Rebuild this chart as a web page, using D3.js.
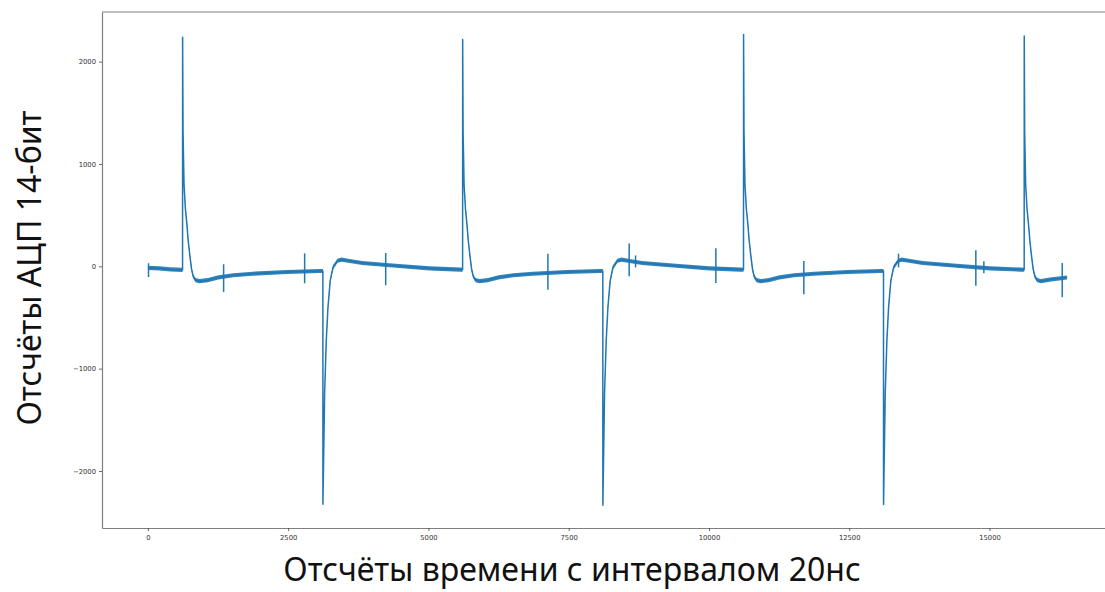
<!DOCTYPE html>
<html>
<head>
<meta charset="utf-8">
<script src="https://cdn.jsdelivr.net/npm/d3@7"></script>
<style>
  body { margin: 0; background: #fff; }
  svg { display: block; }
</style>
</head>
<body>
<svg></svg>
<script>
// ADC trace key points [sample, counts]
var startSegment = [[0,-15],[200,-20],[400,-30],[617,-35]];
var pulse1 = [[618,2238],[626,1300],[643,800],[668,560],[693,420],[718,250],[748,100],[778,-30],[808,-100],[848,-135],[918,-145],[1068,-135],[1258,-108],[1518,-88],[1868,-72],[2468,-55],[3068,-46],
  [3118,-46],[3119,-2325],[3149,-1240],[3179,-720],[3209,-400],[3249,-140],[3299,-10],[3379,55],[3449,65],[3569,55],[3819,33],[4419,5],[5019,-20],[5569,-32],[5609,-33]];
var pulse2 = [[5610,2216],[5618,1300],[5635,800],[5660,560],[5685,420],[5710,250],[5740,100],[5770,-30],[5800,-100],[5840,-135],[5910,-145],[6060,-135],[6250,-108],[6510,-88],[6860,-72],[7460,-55],[8060,-46],
  [8108,-46],[8109,-2335],[8139,-1240],[8169,-720],[8199,-400],[8239,-140],[8289,-10],[8369,55],[8439,65],[8559,55],[8809,33],[9409,5],[10009,-20],[10559,-32],[10616,-33]];
var pulse3 = [[10617,2264],[10625,1300],[10642,800],[10667,560],[10692,420],[10717,250],[10747,100],[10777,-30],[10807,-100],[10847,-135],[10917,-145],[11067,-135],[11257,-108],[11517,-88],[11867,-72],[12467,-55],[13067,-46],
  [13111,-46],[13112,-2328],[13142,-1240],[13172,-720],[13202,-400],[13242,-140],[13292,-10],[13372,55],[13442,65],[13562,55],[13812,33],[14412,5],[15012,-20],[15562,-32],[15619,-33]];
var pulse4 = [[15620,2250],[15628,1300],[15645,800],[15670,560],[15695,420],[15720,250],[15750,100],[15780,-30],[15810,-100],[15850,-135],[15920,-145],[16070,-130],[16383,-110]];

// short interference glitches [sample, high, low]
var glitches = [[10,30,-105],[1349,20,-250],[2793,127,-166],[4238,130,-185],[7129,124,-228],[8578,222,-98],[8692,107,-10],
  [10123,176,-163],[11691,52,-274],[13379,124,-10],[14757,156,-190],[14900,49,-68],[16297,33,-303]];

// noise half-width of the trace, in ADC counts
var noiseHalf = 20;

var xTicks = [0, 2500, 5000, 7500, 10000, 12500, 15000];
var yTicks = [-2000, -1000, 0, 1000, 2000];
var xLabel = "Отсчёты времени с интервалом 20нс";
var yLabel = "Отсчёты АЦП 14-бит";

var trace = startSegment.concat(pulse1, pulse2, pulse3, pulse4);

var width = 1105, height = 592;
var margin = {top: 12, left: 102};
var plotW = 1011, plotH = 516;

var svg = d3.select("svg")
    .attr("width", width)
    .attr("height", height);

var x = d3.scaleLinear()
    .domain([-819, 17202])
    .range([margin.left, margin.left + plotW]);
var y = d3.scaleLinear()
    .domain([-2557, 2485])
    .range([margin.top + plotH, margin.top]);

var blue = "#1f77b4";

// noise band
svg.append("path")
    .datum(trace)
    .attr("fill", blue)
    .attr("opacity", 0.9)
    .attr("d", d3.area()
        .x(function(d) { return x(d[0]); })
        .y0(function(d) { return y(d[1] - noiseHalf); })
        .y1(function(d) { return y(d[1] + noiseHalf); }));

svg.append("path")
    .datum(trace)
    .attr("fill", "none")
    .attr("stroke", blue)
    .attr("stroke-width", 1.5)
    .attr("stroke-linejoin", "round")
    .attr("d", d3.line()
        .x(function(d) { return x(d[0]); })
        .y(function(d) { return y(d[1]); }));

svg.selectAll(".glitch")
    .data(glitches)
    .enter().append("line")
    .attr("class", "glitch")
    .attr("x1", function(d) { return x(d[0]); })
    .attr("x2", function(d) { return x(d[0]); })
    .attr("y1", function(d) { return y(d[1]); })
    .attr("y2", function(d) { return y(d[2]); })
    .attr("stroke", blue)
    .attr("stroke-width", 1.5);

// spines (left, bottom, top; right one falls outside the picture)
var spine = "#7f7f7f";
var gx = svg.append("g")
    .attr("transform", "translate(0," + (margin.top + plotH) + ")")
    .call(d3.axisBottom(x).tickValues(xTicks).tickFormat(d3.format("d"))
        .tickSize(3).tickSizeOuter(0).tickPadding(4));
var gy = svg.append("g")
    .attr("transform", "translate(" + margin.left + ",0)")
    .call(d3.axisLeft(y).tickValues(yTicks)
        .tickFormat(function(d) { return d < 0 ? "\u2212" + Math.abs(d) : d; })
        .tickSize(3).tickSizeOuter(0).tickPadding(3));
[gx, gy].forEach(function(g) {
    g.select(".domain").attr("stroke", spine).attr("stroke-width", 1.2);
    g.selectAll(".tick line").attr("stroke", "#444").attr("stroke-width", 0.8);
    g.selectAll(".tick text").attr("fill", "#333")
        .style("font-family", "DejaVu Sans").style("font-size", "6.8px");
});
svg.append("line")
    .attr("x1", margin.left).attr("x2", margin.left + plotW)
    .attr("y1", margin.top).attr("y2", margin.top)
    .attr("stroke", spine).attr("stroke-width", 1.2);

svg.append("text")
    .attr("x", 572)
    .attr("y", 581)
    .attr("text-anchor", "middle")
    .style("font-family", "Noto Sans")
    .style("font-size", "32px")
    .attr("fill", "#111")
    .text(xLabel);

svg.append("text")
    .attr("transform", "translate(41,268) rotate(-90)")
    .attr("text-anchor", "middle")
    .style("font-family", "Noto Sans")
    .style("font-size", "32px")
    .attr("fill", "#111")
    .text(yLabel);
</script>
</body>
</html>
